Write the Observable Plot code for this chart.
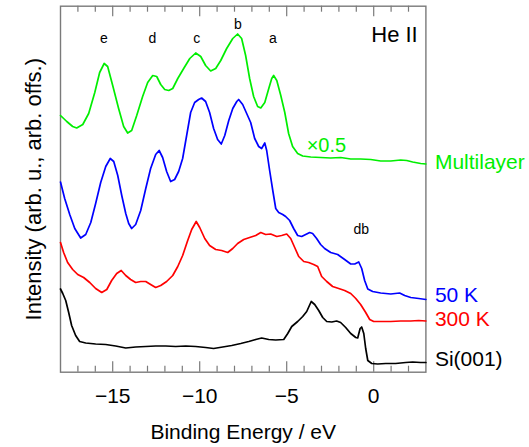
<!DOCTYPE html>
<html>
<head>
<meta charset="utf-8">
<script src="https://cdn.jsdelivr.net/npm/d3@7"></script>
<script src="https://cdn.jsdelivr.net/npm/@observablehq/plot@0.6"></script>
<style>
  html, body { margin: 0; padding: 0; background: #fff; }
  #chart svg { display: block; }
</style>
</head>
<body>
<div id="chart"></div>
<script>
// He II valence-band spectra: multilayer, 50 K, 300 K and clean Si(001)
// Binding energy in eV, intensity in arbitrary units with arbitrary offsets.

const multilayerE = [-18, -17.64, -17.30, -17.07, -16.72, -16.38, -16.03, -15.75, -15.49, -15.29, -15.00, -14.66, -14.37, -14.14, -13.91, -13.62, -13.28, -12.99, -12.70, -12.47, -12.24, -12.01, -11.78, -11.55, -11.26, -10.92, -10.57, -10.23, -9.94, -9.66, -9.37, -9.08, -8.79, -8.45, -8.10, -7.82, -7.59, -7.36, -7.13, -6.90, -6.67, -6.49, -6.26, -6.03, -5.86, -5.75, -5.57, -5.34, -5.11, -4.89, -4.66, -4.37, -4.08, -3.62, -3.05, -2.47, -1.90, -1.32, -0.75, -0.17, 0.40, 0.98, 1.55, 1.90, 2.24, 2.70, 3.0];
const multilayerI = [25.67, 25.07, 24.57, 24.42, 24.77, 25.87, 27.97, 29.97, 30.87, 30.57, 28.67, 26.37, 24.57, 23.92, 24.17, 25.67, 27.57, 28.97, 29.67, 29.57, 28.77, 28.27, 28.17, 28.37, 29.37, 30.37, 31.37, 31.92, 31.57, 30.67, 30.12, 30.37, 31.17, 32.37, 33.37, 33.82, 33.37, 31.67, 29.37, 27.57, 26.57, 26.42, 26.97, 28.37, 29.37, 29.67, 29.17, 27.67, 25.97, 23.87, 22.57, 21.87, 21.62, 21.52, 21.47, 21.42, 21.47, 21.32, 21.32, 21.27, 21.12, 21.12, 21.22, 21.17, 21.02, 20.87, 20.82];

const k50E = [-18, -17.76, -17.47, -17.18, -16.84, -16.55, -16.26, -15.98, -15.69, -15.40, -15.14, -14.94, -14.71, -14.48, -14.25, -14.08, -13.91, -13.68, -13.39, -13.10, -12.82, -12.53, -12.33, -12.13, -11.90, -11.67, -11.44, -11.21, -10.98, -10.75, -10.52, -10.29, -10.06, -9.89, -9.66, -9.43, -9.20, -8.97, -8.76, -8.56, -8.33, -8.10, -7.87, -7.76, -7.53, -7.30, -7.07, -6.84, -6.61, -6.44, -6.26, -6.15, -5.98, -5.80, -5.63, -5.46, -5.23, -5.06, -4.83, -4.60, -4.37, -4.14, -3.91, -3.68, -3.51, -3.28, -3.05, -2.82, -2.47, -2.07, -1.67, -1.32, -1.09, -0.86, -0.69, -0.52, -0.34, -0.06, 0.40, 0.98, 1.49, 1.78, 2.13, 2.59, 3.0];
const k50I = [19.02, 17.37, 15.77, 14.37, 13.42, 13.77, 14.97, 16.87, 18.97, 20.57, 21.37, 21.07, 19.67, 17.67, 15.87, 14.87, 14.37, 14.77, 16.17, 18.37, 20.37, 21.77, 22.17, 21.47, 20.07, 19.07, 19.27, 20.07, 21.37, 23.67, 25.97, 26.97, 27.27, 27.42, 27.07, 25.97, 24.37, 23.27, 22.82, 23.67, 25.17, 26.37, 27.07, 27.27, 26.77, 25.87, 24.97, 23.37, 22.57, 22.37, 22.92, 22.17, 20.17, 18.17, 16.37, 15.97, 15.77, 15.57, 15.17, 14.37, 13.67, 13.57, 13.77, 13.97, 13.87, 13.37, 12.77, 12.37, 11.97, 11.77, 11.27, 10.82, 10.82, 11.02, 10.37, 9.17, 8.32, 8.07, 7.92, 7.82, 7.92, 7.67, 7.47, 7.37, 7.27];

const k300E = [-18, -17.82, -17.59, -17.30, -17.01, -16.67, -16.32, -15.98, -15.63, -15.34, -15.06, -14.77, -14.51, -14.25, -13.97, -13.68, -13.39, -13.10, -12.82, -12.53, -12.24, -11.90, -11.55, -11.26, -10.98, -10.69, -10.46, -10.20, -10.00, -9.71, -9.43, -9.08, -8.74, -8.39, -8.10, -7.82, -7.47, -7.13, -6.78, -6.49, -6.21, -5.92, -5.57, -5.29, -5.00, -4.77, -4.54, -4.31, -4.02, -3.74, -3.45, -3.22, -2.99, -2.70, -2.36, -2.01, -1.67, -1.32, -1.03, -0.75, -0.46, -0.23, 0.00, 0.40, 0.98, 1.55, 2.13, 2.59, 3.0];
const k300I = [12.97, 11.97, 10.97, 10.27, 9.77, 9.47, 8.97, 8.37, 7.97, 8.27, 9.17, 9.87, 10.17, 9.67, 9.27, 8.97, 9.07, 9.07, 8.77, 8.47, 8.67, 9.07, 9.67, 10.57, 11.67, 13.17, 14.27, 15.07, 14.47, 13.37, 12.67, 12.27, 12.17, 11.97, 12.37, 12.87, 13.27, 13.47, 13.67, 13.97, 13.77, 13.82, 13.57, 13.67, 13.82, 13.37, 12.47, 11.57, 11.07, 10.97, 10.77, 10.57, 9.57, 9.07, 8.57, 8.37, 8.17, 7.87, 7.37, 6.77, 5.97, 5.27, 5.07, 5.07, 5.07, 5.12, 5.12, 5.17, 5.12];

const siE = [-18, -17.87, -17.70, -17.53, -17.36, -17.13, -16.90, -16.55, -15.98, -15.40, -14.83, -14.25, -13.68, -13.10, -12.53, -11.95, -11.38, -10.80, -10.23, -9.66, -9.20, -8.68, -8.16, -7.64, -7.18, -6.78, -6.44, -6.03, -5.63, -5.17, -4.94, -4.71, -4.37, -4.08, -3.85, -3.59, -3.39, -3.16, -2.93, -2.70, -2.41, -2.13, -1.90, -1.61, -1.32, -1.03, -0.92, -0.78, -0.69, -0.57, -0.46, -0.34, -0.11, 0.23, 0.69, 1.26, 1.84, 2.24, 2.70, 3.0];
const siI = [8.32, 7.87, 7.17, 5.97, 4.67, 3.67, 3.07, 2.92, 2.82, 2.77, 2.62, 2.42, 2.52, 2.57, 2.62, 2.62, 2.57, 2.62, 2.57, 2.47, 2.37, 2.52, 2.67, 2.87, 3.07, 3.27, 3.42, 3.27, 3.22, 3.27, 3.87, 4.57, 5.07, 5.57, 6.07, 7.07, 6.77, 6.17, 5.47, 5.07, 5.02, 5.12, 4.97, 4.47, 3.87, 3.47, 3.42, 4.37, 4.52, 3.87, 2.37, 1.17, 0.87, 0.82, 0.87, 0.87, 0.97, 1.02, 0.97, 0.97];

const seriesNames = ["Multilayer", "50 K", "300 K", "Si(001)"];
const seriesColors = ["#00ee00", "#0000ff", "#ff0000", "#000000"];
const seriesE = [multilayerE, k50E, k300E, siE];
const seriesI = [multilayerI, k50I, k300I, siI];
// vertical level of each series name at the right of the panel
const seriesLabelLevels = [20.97, 7.67, 5.27, 1.27];

// peak labels on the multilayer spectrum
const peakLabels = ["e", "d", "c", "b", "a"];
const peakEnergies = [-15.5, -12.72, -10.17, -7.80, -5.79];
const peakLevels = [33.37, 33.37, 33.37, 34.77, 33.37];

const majorTicks = [-15, -10, -5, 0];
const minorTicks = d3.range(-17, 3).filter(v => !majorTicks.includes(v));

const rows = seriesNames.flatMap((name, s) =>
  seriesE[s].map((e, i) => ({series: name, E: e, I: seriesI[s][i]}))
);
const peaks = peakLabels.map((t, i) => ({t, E: peakEnergies[i], I: peakLevels[i]}));
const names = seriesNames.map((t, i) => ({t, I: seriesLabelLevels[i], c: seriesColors[i]}));

const FONT = '"Liberation Sans", Arial, Helvetica, sans-serif';
const GRAY = "#7a7a7a";
const W = 529, H = 447, MT = 5.7, MB = 75.3;
const innerH = H - MT - MB;
const fmt = d => (d < 0 ? "\u2212" + (-d) : String(d));

const chart = Plot.plot({
  width: W,
  height: H,
  marginLeft: 60,
  marginRight: 103.6,
  marginTop: MT,
  marginBottom: MB,
  x: {domain: [-18, 3]},
  y: {domain: [0, 36.6], axis: null},
  color: {domain: seriesNames, range: seriesColors},
  style: {fontFamily: FONT, background: "#fff", color: "#000"},
  marks: [
    // inward tick marks along the bottom and top edges
    Plot.ruleX(minorTicks, {stroke: GRAY, strokeWidth: 1.2, insetTop: innerH - 6}),
    Plot.ruleX(minorTicks, {stroke: GRAY, strokeWidth: 1.2, insetBottom: innerH - 6}),
    Plot.ruleX(majorTicks, {stroke: GRAY, strokeWidth: 1.2, insetTop: innerH - 10.5}),
    Plot.ruleX(majorTicks, {stroke: GRAY, strokeWidth: 1.2, insetBottom: innerH - 10.5}),
    Plot.frame({stroke: GRAY, strokeWidth: 1.4}),
    Plot.axisX({ticks: majorTicks, tickSize: 0, tickPadding: 16, fontSize: 21, tickFormat: fmt, label: null}),
    Plot.line(rows, {x: "E", y: "I", z: "series", stroke: "series", strokeWidth: 1.7}),
    Plot.text(peaks, {x: "E", y: "I", text: "t", fontSize: 14, lineAnchor: "middle"}),
    Plot.text(["db"], {x: -0.71, y: 14.22, fontSize: 14, lineAnchor: "middle"}),
    Plot.text(["He II"], {x: 2.53, y: 33.7, fontSize: 22, textAnchor: "end", lineAnchor: "middle"}),
    Plot.text(["\u00d70.5"], {x: -2.72, y: 22.64, fontSize: 20, fill: seriesColors[0], lineAnchor: "middle"}),
    Plot.text(names, {x: 3, y: "I", text: "t", fill: "c", dx: 9, fontSize: 21, textAnchor: "start", lineAnchor: "middle"}),
    Plot.text(["Binding Energy / eV"], {frameAnchor: "bottom", dy: 67, fontSize: 21, lineAnchor: "bottom"}),
    Plot.text(["Intensity (arb. u., arb. offs.)"], {frameAnchor: "left", dx: -27, rotate: -90, fontSize: 22, textAnchor: "middle", lineAnchor: "middle"})
  ]
});

document.getElementById("chart").appendChild(chart);
</script>
</body>
</html>
